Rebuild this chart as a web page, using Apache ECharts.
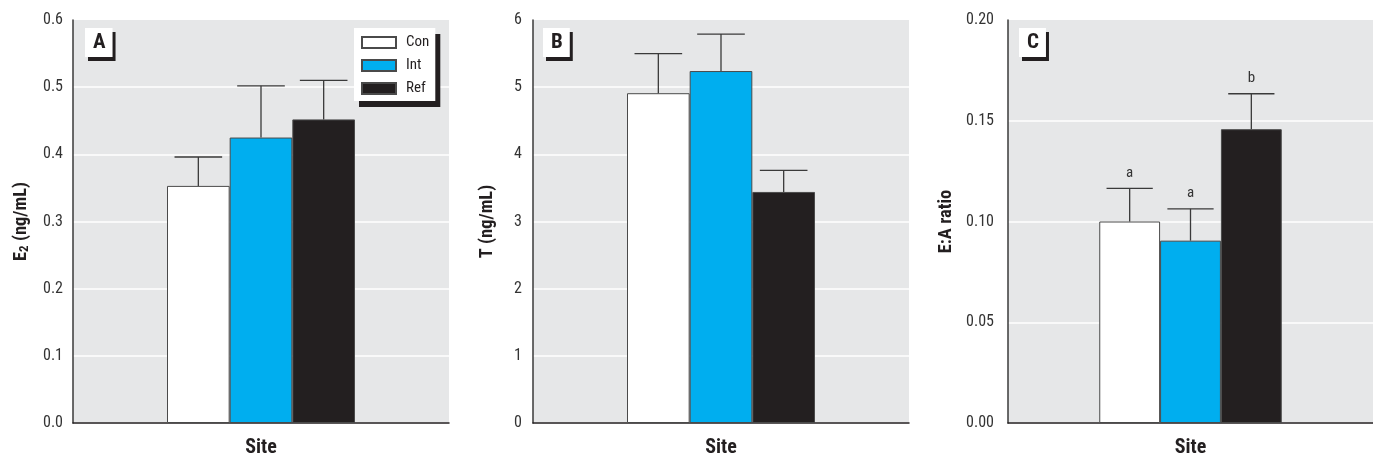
<!DOCTYPE html>
<html><head><meta charset="utf-8">
<script src="https://cdn.jsdelivr.net/npm/echarts@6/dist/echarts.min.js"></script>
<style>html,body{margin:0;padding:0;background:#fff}#c{width:1373px;height:458px}</style>
</head><body><div id="c"></div>
<script>
const categories = ['Site'];
const groups = ['Con', 'Int', 'Ref'];
const e2Mean = [0.353, 0.425, 0.452];
const e2Err = [0.043, 0.077, 0.058];
const tMean = [4.91, 5.24, 3.44];
const tErr = [0.59, 0.55, 0.32];
const eaMean = [0.100, 0.0905, 0.1458];
const eaErr = [0.0164, 0.0158, 0.0176];
const eaLetters = ['a', 'a', 'b'];
const panelLetters = ['A', 'B', 'C'];
const yMax = [0.6, 6, 0.2];
const yInterval = [0.1, 1, 0.05];
const yDecimals = [1, 0, 2];

const F = "'Liberation Sans Narrow','Arial Narrow','Roboto Condensed',sans-serif";
const colors = ['#ffffff', '#00aeef', '#231f20'];
const INK = '#231f20';

const panels = [
  {mean: e2Mean, err: e2Err, letters: null, name: '{a|E}{s|2}{a| (ng/mL)}', nameGap: 42, labelMargin: 10},
  {mean: tMean, err: tErr, letters: null, name: '{a|T (ng/mL)}', nameGap: 36, labelMargin: 11},
  {mean: eaMean, err: eaErr, letters: eaLetters, name: '{a|E:A ratio}', nameGap: 52, labelMargin: 14}
];
const gridPos = [
  {left: 73, top: 20, width: 376, height: 403},
  {left: 533, top: 20, width: 376, height: 403},
  {left: 1008, top: 20, width: 365, height: 403}
];
const titlePos = [{left: 85, top: 28}, {left: 543, top: 28}, {left: 1019, top: 28}];

const grid = [], xAxis = [], yAxis = [], series = [], title = [];
panels.forEach((p, k) => {
  grid.push(Object.assign({show: true, backgroundColor: '#e6e7e8', borderWidth: 0}, gridPos[k]));
  xAxis.push({
    type: 'category', gridIndex: k, data: categories,
    axisLine: {lineStyle: {color: INK, width: 1.5}},
    axisTick: {show: false},
    axisLabel: {fontFamily: F, fontWeight: 'bold', fontSize: 20, color: INK, margin: 15}
  });
  yAxis.push({
    type: 'value', gridIndex: k, min: 0, max: yMax[k], interval: yInterval[k],
    name: p.name, nameLocation: 'middle', nameGap: p.nameGap, nameRotate: 90,
    nameTextStyle: {
      rich: {
        a: {fontFamily: F, fontWeight: 'bold', fontSize: 18.5, color: INK, lineHeight: 20},
        s: {fontFamily: F, fontWeight: 'bold', fontSize: 13, color: INK, lineHeight: 11, verticalAlign: 'bottom'}
      }
    },
    axisLine: {show: true, lineStyle: {color: '#3a3a3a', width: 1.5}},
    axisTick: {show: false},
    axisLabel: {fontFamily: F, fontSize: 16, color: '#333', margin: p.labelMargin,
      formatter: v => v.toFixed(yDecimals[k])},
    splitLine: {show: true, showMaxLine: false, lineStyle: {color: '#ffffff', width: 1.5}}
  });
  groups.forEach((g, i) => {
    series.push({
      type: 'bar', name: g, xAxisIndex: k, yAxisIndex: k,
      data: [p.mean[i]],
      barGap: '0%', barCategoryGap: '50%',
      itemStyle: {color: colors[i], borderColor: '#4a4a4a', borderWidth: 1},
      emphasis: {disabled: true}, z: 2
    });
  });
  series.push({
    type: 'custom', xAxisIndex: k, yAxisIndex: k, z: 5, silent: true,
    data: p.mean.map((m, i) => [0, m + p.err[i]]),
    renderItem: (params, api) => {
      const i = params.dataIndex;
      const base = api.coord([0, p.mean[i]]);
      const top = api.coord([0, p.mean[i] + p.err[i]]);
      const band = api.size([1, 0])[0];
      const bw = band * 0.5 / 3;
      const cx = base[0] + (i - 1) * bw;
      const half = bw * 0.38;
      const st = {stroke: '#3a3a3a', lineWidth: 1.3};
      const children = [
        {type: 'line', shape: {x1: cx, y1: base[1], x2: cx, y2: top[1]}, style: st},
        {type: 'line', shape: {x1: cx - half, y1: top[1], x2: cx + half, y2: top[1]}, style: st}
      ];
      if (p.letters) {
        children.push({type: 'text', style: {text: p.letters[i], x: cx, y: top[1] - 8,
          align: 'center', verticalAlign: 'bottom', fill: '#333', font: '15px ' + F}});
      }
      return {type: 'group', children};
    }
  });
  title.push(Object.assign({
    text: panelLetters[k],
    textStyle: {fontFamily: F, fontWeight: 'bold', fontSize: 21, color: INK, lineHeight: 21},
    backgroundColor: '#ffffff', padding: [4, 7, 4, 8],
    shadowColor: INK, shadowOffsetX: 3, shadowOffsetY: 4, shadowBlur: 0
  }, titlePos[k]));
});

const chart = echarts.init(document.getElementById('c'));
chart.setOption({
  animation: false,
  title, grid, xAxis, yAxis, series,
  legend: {
    data: groups, left: 354, top: 28, orient: 'vertical',
    icon: 'rect', itemWidth: 34, itemHeight: 11, itemGap: 8,
    padding: [7, 6, 5, 7], backgroundColor: '#ffffff',
    shadowColor: INK, shadowOffsetX: 5, shadowOffsetY: 6, shadowBlur: 0,
    textStyle: {fontFamily: F, fontSize: 15, color: INK, padding: [0, 0, 0, 5]},
    selectedMode: false
  }
});
</script></body></html>
